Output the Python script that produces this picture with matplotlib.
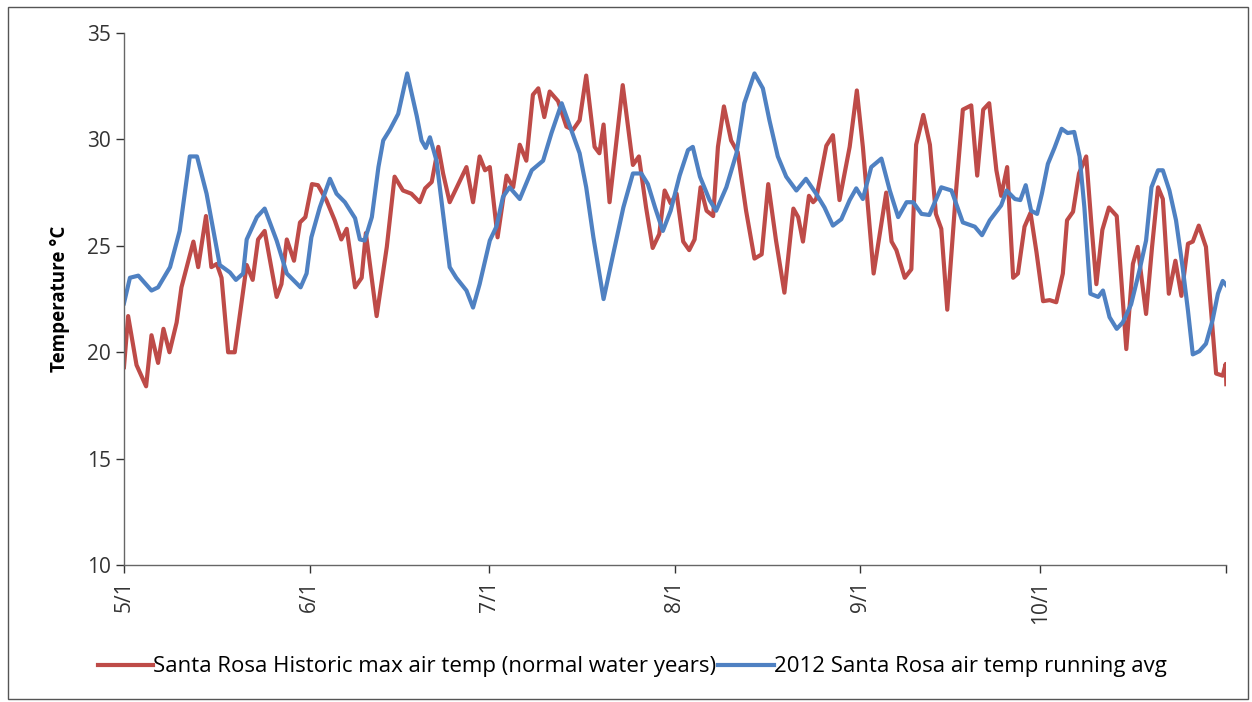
import matplotlib
matplotlib.use("Agg")
from matplotlib import pyplot as plt
from matplotlib.patches import Rectangle

# day offsets from 5/1 and temperatures (deg C)
HIST_DAYS = [0, 0.7, 2.1, 3.7, 4.6, 5.7, 6.6, 7.6, 8.8, 9.6, 11.6, 12.4, 13.7, 14.6, 15.5,
             16.3, 17.4, 18.5, 20.5, 21.5, 22.4, 23.5, 25.5, 26.3, 27.2, 28.4, 29.4, 30.3,
             31.4, 32.4, 33.8, 35.2, 36.3, 37.2, 38.6, 39.7, 40.4, 42.2, 43.9, 45.2, 46.6,
             48.0, 49.4, 50.3, 51.4, 52.5, 53.3, 54.4, 55.5, 57.2, 58.3, 59.4, 60.3, 61.1,
             62.4, 63.9, 65.0, 66.1, 67.2, 68.3, 69.2, 70.2, 71.1, 72.5, 73.9, 75.0, 76.1,
             77.2, 78.6, 79.4, 80.1, 81.1, 83.3, 85.0, 86.0, 87.2, 88.3, 89.4, 90.3, 91.3,
             92.3, 93.4, 94.4, 95.3, 96.3, 97.3, 98.4, 99.2, 100.2, 101.4, 102.5, 103.9,
             105.3, 106.5, 107.6, 108.9, 110.3, 111.8, 112.6, 113.4, 114.4, 115.1, 115.6,
             117.3, 118.4, 119.5, 121.2, 122.4, 123.4, 125.2, 127.3, 128.2, 129.0, 130.4,
             131.5, 132.3, 133.5, 134.6, 135.6, 136.5, 137.5, 139.0, 140.1, 141.5, 142.5,
             143.5, 144.5, 145.7, 146.5, 147.5, 148.5, 149.3, 150.4, 151.4, 152.4, 153.5,
             154.6, 155.7, 156.8, 157.5, 158.5, 159.5, 160.7, 161.6, 162.4, 163.4, 164.5,
             165.8, 167.4, 168.5, 169.3, 170.7, 171.7, 172.7, 173.5, 174.5, 175.6, 176.6,
             177.7, 178.5, 179.5, 180.7, 182.4, 183.5, 184.0, 184.1]
HIST_TEMP = [19.3, 21.7, 19.4, 18.4, 20.8, 19.5, 21.1, 20.0, 21.4, 23.05, 25.2, 24.0, 26.4,
             24.0, 24.15, 23.5, 20.0, 20.0, 24.1, 23.4, 25.3, 25.7, 22.6, 23.2, 25.3, 24.3,
             26.1, 26.35, 27.9, 27.85, 27.15, 26.2, 25.3, 25.8, 23.05, 23.5, 25.6, 21.7,
             24.95, 28.25, 27.6, 27.45, 27.05, 27.7, 28.0, 29.65, 28.4, 27.05, 27.7, 28.7,
             27.05, 29.2, 28.55, 28.7, 25.4, 28.3, 27.75, 29.75, 29.0, 32.1, 32.4, 31.05,
             32.25, 31.8, 30.6, 30.45, 30.9, 33.0, 29.65, 29.35, 30.7, 27.05, 32.55, 28.8,
             29.2, 26.8, 24.9, 25.55, 27.6, 27.0, 27.45, 25.2, 24.8, 25.3, 27.75, 26.65,
             26.4, 29.65, 31.55, 29.95, 29.4, 26.65, 24.4, 24.6, 27.9, 25.25, 22.8, 26.75,
             26.35, 25.2, 27.35, 27.05, 27.2, 29.7, 30.2, 27.15, 29.65, 32.3, 29.65, 23.7,
             27.5, 25.2, 24.8, 23.5, 23.9, 29.75, 31.15, 29.75, 26.5, 25.8, 22.0, 27.7,
             31.4, 31.6, 28.3, 31.4, 31.7, 28.55, 27.35, 28.7, 23.5, 23.7, 25.9, 26.55,
             24.7, 22.4, 22.45, 22.35, 23.7, 26.2, 26.6, 28.4, 29.2, 25.9, 23.2, 25.75,
             26.8, 26.4, 20.15, 24.15, 24.95, 21.8, 24.95, 27.75, 27.2, 22.75, 24.3, 22.65,
             25.1, 25.2, 25.95, 24.95, 19.0, 18.9, 19.45, 18.5]

AVG_DAYS = [0, 1.0, 2.4, 4.6, 5.7, 7.7, 9.3, 11.0, 12.2, 13.8, 16.0, 17.7, 18.7, 19.9, 20.5,
            22.2, 23.5, 25.5, 27.2, 29.5, 30.5, 31.3, 32.7, 34.4, 35.5, 36.9, 38.6, 39.4,
            40.2, 41.4, 42.5, 43.3, 44.4, 45.8, 47.3, 48.9, 49.7, 50.4, 51.1, 52.2, 53.3,
            54.4, 55.5, 57.2, 58.3, 59.4, 61.1, 62.2, 63.3, 64.4, 66.1, 68.1, 70.0, 71.4,
            73.1, 74.5, 76.1, 77.2, 78.4, 80.1, 81.7, 83.4, 85.0, 86.4, 87.5, 88.7, 90.0,
            91.3, 92.8, 94.2, 95.0, 96.2, 97.8, 98.9, 100.6, 102.3, 103.6, 105.3, 106.7,
            107.8, 109.2, 110.6, 112.3, 113.9, 115.6, 117.0, 118.4, 119.8, 121.2, 122.3,
            123.4, 124.8, 126.5, 127.9, 129.3, 130.7, 131.8, 133.2, 134.5, 136.5, 138.2,
            140.1, 142.1, 143.3, 144.6, 146.5, 147.4, 148.8, 149.7, 150.6, 151.5, 152.5,
            153.3, 154.3, 155.4, 156.6, 157.6, 158.7, 159.6, 160.4, 161.4, 162.7, 163.5,
            164.6, 165.8, 166.8, 168.2, 169.6, 170.7, 171.6, 172.7, 173.5, 174.6, 175.7,
            176.8, 177.7, 178.5, 179.6, 180.7, 181.8, 182.7, 183.5, 184.1]
AVG_TEMP = [22.3, 23.5, 23.6, 22.9, 23.05, 24.0, 25.7, 29.2, 29.2, 27.45, 24.1, 23.75, 23.4,
            23.7, 25.3, 26.35, 26.75, 25.25, 23.7, 23.05, 23.7, 25.4, 26.8, 28.15, 27.45,
            27.05, 26.3, 25.3, 25.25, 26.35, 28.7, 29.95, 30.45, 31.2, 33.1, 31.1, 29.95,
            29.6, 30.1, 29.0, 26.5, 24.0, 23.5, 22.9, 22.1, 23.2, 25.25, 25.9, 27.3, 27.75,
            27.2, 28.55, 29.0, 30.3, 31.7, 30.6, 29.35, 27.75, 25.4, 22.5, 24.6, 26.8, 28.4,
            28.4, 27.9, 26.8, 25.7, 26.65, 28.3, 29.5, 29.65, 28.25, 27.15, 26.65, 27.75,
            29.35, 31.7, 33.1, 32.4, 30.9, 29.2, 28.25, 27.6, 28.15, 27.45, 26.8, 25.95,
            26.25, 27.15, 27.7, 27.2, 28.7, 29.1, 27.6, 26.35, 27.05, 27.05, 26.5, 26.45,
            27.75, 27.6, 26.1, 25.9, 25.5, 26.2, 26.9, 27.6, 27.2, 27.15, 27.85, 26.65,
            26.5, 27.45, 28.85, 29.6, 30.5, 30.3, 30.35, 29.2, 26.8, 22.75, 22.6, 22.9,
            21.65, 21.1, 21.4, 22.25, 23.85, 25.25, 27.75, 28.55, 28.55, 27.6, 26.2, 24.0,
            21.95, 19.9, 20.05, 20.4, 21.5, 22.75, 23.35, 23.15]

MONTH_DAYS = [0, 31, 61, 92, 123, 153]
MONTH_LABELS = ['5/1', '6/1', '7/1', '8/1', '9/1', '10/1']
Y_TICKS = [10, 15, 20, 25, 30, 35]

RED = '#BE4B48'
BLUE = '#4F81C2'

plt.rcParams['font.family'] = ['Open Sans', 'DejaVu Sans']


def main() -> None:
    fig = plt.figure(figsize=(12.52, 7.02), dpi=100)
    ax = fig.add_axes([0.099, 0.195, 0.880, 0.758])

    ax.plot(HIST_DAYS, HIST_TEMP, color=RED, linewidth=3.0,
            label='Santa Rosa Historic max air temp (normal water years)')
    ax.plot(AVG_DAYS, AVG_TEMP, color=BLUE, linewidth=3.0,
            label='2012 Santa Rosa air temp running avg')

    ax.set_xlim(0, 184)
    ax.set_ylim(10, 35)
    ax.set_yticks(Y_TICKS)
    ax.set_xticks(MONTH_DAYS + [184])
    ax.set_xticklabels(MONTH_LABELS + [''], rotation=90)
    ax.tick_params(axis='both', labelsize=15, colors='#333333', length=6,
                   width=1, direction='out')
    ax.tick_params(axis='x', pad=5)
    ax.set_ylabel('Temperature °C', fontsize=13.5, fontweight='bold', labelpad=12)

    ax.spines['top'].set_visible(False)
    ax.spines['right'].set_visible(False)
    for side in ('left', 'bottom'):
        ax.spines[side].set_color('#666666')
        ax.spines[side].set_linewidth(1)

    fig.legend(loc='center', bbox_to_anchor=(0.505, 0.05), ncol=2, frameon=False,
               fontsize=16, handlelength=2.5, handletextpad=0.0, columnspacing=0.1)

    # outer chart border
    fig.patches.append(Rectangle((8 / 1252, 3 / 702), 1240 / 1252, 692 / 702,
                                 transform=fig.transFigure, fill=False,
                                 edgecolor='#555555', linewidth=1))

    fig.savefig('out.png', dpi=100)


if __name__ == "__main__":
    main()
